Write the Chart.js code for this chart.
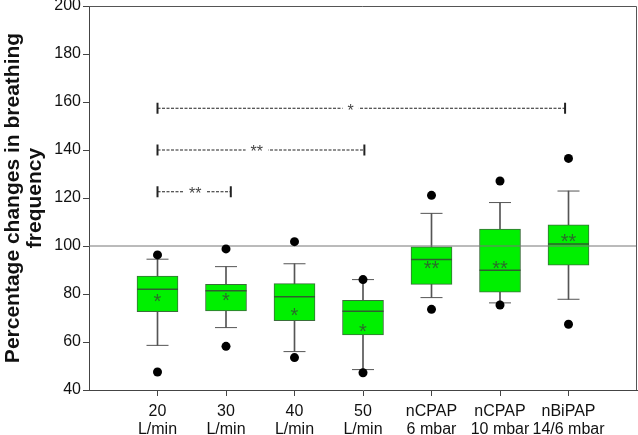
<!DOCTYPE html>
<html>
<head>
<meta charset="utf-8">
<script src="https://cdn.jsdelivr.net/npm/chart.js@4/dist/chart.umd.min.js"></script>
<style>
body{margin:0;background:#fff}
#wrap{width:638px;height:435px}
</style>
</head>
<body>
<div id="wrap"><canvas id="myChart"></canvas></div>
<script>
//box plot values, one entry per group
var groups = [['20','L/min'],['30','L/min'],['40','L/min'],['50','L/min'],['nCPAP','6 mbar'],['nCPAP','10 mbar'],['nBiPAP','14/6 mbar']];
var q1 = [72.6, 72.9, 68.9, 63.0, 84.0, 80.8, 92.0];
var q3 = [87.5, 84.0, 84.3, 77.4, 99.7, 107.0, 108.8];
var medians = [82.0, 81.4, 78.9, 72.8, 94.4, 89.9, 100.8];
var means = [78.2, 78.6, 72.2, 65.7, 91.8, 92.0, 103.2];
var whiskerLow = [58.6, 66.0, 56.0, 48.5, 78.5, 76.3, 77.8];
var whiskerHigh = [94.5, 91.4, 92.6, 86.0, 113.6, 118.1, 122.9];
var outlierLow = [47.5, 58.2, 53.5, 47.2, 73.6, 75.4, 67.4];
var outlierHigh = [96.3, 98.8, 101.8, 86.0, 121.1, 127.1, 136.5];
var meanMarks = ['*','*','*','*','**','**','**'];
var yTicks = [40, 60, 80, 100, 120, 140, 160, 180, 200];
var refLine = 100;
//significance brackets
var bracketFrom = [1, 1, 1];
var bracketTo = [2.07, 4.02, 6.95];
var bracketY = [122.6, 140, 157.4];
var bracketText = ['**', '**', '*'];
var bracketTextX = [1.55, 2.45, 3.82];

var FONT = "'Liberation Sans', Arial, sans-serif";

function pts(arr){
    return arr.map(function(v, i){ return {x: i + 1, y: v}; });
}
function ranges(lo, hi){
    return lo.map(function(v, i){ return {x: i + 1, y: [v, hi[i]]}; });
}

var datasets = [];
datasets.push({
    type: 'line', label: 'outliers', order: 0,
    data: pts(outlierLow).concat(pts(outlierHigh)),
    showLine: false, pointStyle: 'circle', pointRadius: 4.5,
    pointBackgroundColor: '#000', pointBorderColor: '#000', pointBorderWidth: 0
});
datasets.push({
    type: 'line', label: 'ref', order: 1,
    data: [{x: 0, y: refLine}, {x: 8, y: refLine}],
    borderColor: '#777', borderWidth: 1, pointRadius: 0
});
datasets.push({
    type: 'line', label: 'medians', order: 2,
    data: pts(medians),
    showLine: false, pointStyle: 'line', pointRadius: 20.5,
    pointBorderColor: '#2e5e2e', pointBorderWidth: 1.5
});
datasets.push({
    type: 'bar', label: 'boxes', order: 3, grouped: false,
    data: ranges(q1, q3),
    barThickness: 41, backgroundColor: '#00f000',
    borderColor: '#3a6e3a', borderWidth: 1, borderSkipped: false
});
datasets.push({
    type: 'line', label: 'caps', order: 4,
    data: pts(whiskerLow).concat(pts(whiskerHigh)),
    showLine: false, pointStyle: 'line', pointRadius: 11,
    pointBorderColor: '#555', pointBorderWidth: 1
});
datasets.push({
    type: 'bar', label: 'whiskers', order: 5, grouped: false,
    data: ranges(whiskerLow, whiskerHigh),
    barThickness: 1, backgroundColor: '#555', borderWidth: 0
});
for (var b = 0; b < bracketY.length; b++) {
    datasets.push({
        type: 'line', label: 'bracket' + b, order: 6,
        data: [{x: bracketFrom[b], y: bracketY[b]}, {x: bracketTo[b], y: bracketY[b]}],
        borderColor: '#222', borderWidth: 1.2, borderDash: [3, 1.5],
        pointStyle: 'line', pointRotation: 90, pointRadius: 5.5,
        pointBorderColor: '#222', pointBorderWidth: 2
    });
}

//asterisks, bracket labels and the frame
var marks = {
    id: 'marks',
    afterDatasetsDraw: function(chart){
        var c = chart.ctx, xs = chart.scales.x, ys = chart.scales.y, a = chart.chartArea;
        c.save();
        c.strokeStyle = '#555';
        c.lineWidth = 1;
        c.beginPath();
        c.moveTo(a.left, a.top + 0.5);
        c.lineTo(a.right - 0.5, a.top + 0.5);
        c.lineTo(a.right - 0.5, a.bottom);
        c.stroke();
        c.textAlign = 'center';
        c.textBaseline = 'middle';
        c.font = '20px ' + FONT;
        c.fillStyle = '#2b6b2b';
        for (var i = 0; i < means.length; i++) {
            c.fillText(meanMarks[i], xs.getPixelForValue(i + 1), ys.getPixelForValue(means[i]) + 4);
        }
        c.font = '16px ' + FONT;
        for (var j = 0; j < bracketText.length; j++) {
            var px = xs.getPixelForValue(bracketTextX[j]), py = ys.getPixelForValue(bracketY[j]);
            var w = c.measureText(bracketText[j]).width;
            c.fillStyle = '#fff';
            c.fillRect(px - w / 2 - 5, py - 4, w + 10, 8);
            c.fillStyle = '#444';
            c.fillText(bracketText[j], px, py + 3);
        }
        c.restore();
    }
};

var ctx = document.getElementById('myChart').getContext('2d');
var chart = new Chart(ctx, {
    type: 'bar',
    data: {datasets: datasets},
    plugins: [marks],
    options: {
        responsive: true,
        maintainAspectRatio: false,
        animation: false,
        layout: {autoPadding: false, padding: {top: 6, right: 1, left: 0, bottom: 0}},
        plugins: {legend: {display: false}, tooltip: {enabled: false}},
        scales: {
            x: {
                type: 'linear', min: 0, max: 8, offset: false,
                afterBuildTicks: function(s){ s.ticks = groups.map(function(g, i){ return {value: i + 1}; }); },
                afterFit: function(s){ s.height = 45; s.paddingLeft = 0; s.paddingRight = 0; },
                ticks: {
                    callback: function(v){ return groups[v - 1]; },
                    font: {family: FONT, size: 16, lineHeight: 1.15}, color: '#111',
                    maxRotation: 0, autoSkip: false, padding: 6
                },
                grid: {drawOnChartArea: false, offset: false, tickLength: 6, color: '#444'},
                border: {color: '#444'}
            },
            y: {
                min: 40, max: 200,
                afterBuildTicks: function(s){ s.ticks = yTicks.map(function(v){ return {value: v}; }); },
                afterFit: function(s){ s.width = 89; s.paddingTop = 0; s.paddingBottom = 0; },
                ticks: {font: {family: FONT, size: 16}, color: '#111', padding: 2},
                grid: {drawOnChartArea: false, tickLength: 6, color: '#444'},
                border: {color: '#444'},
                title: {
                    display: true,
                    text: ['Percentage changes in breathing', 'frequency'],
                    font: {family: FONT, size: 21, weight: 'bold', lineHeight: 1.05},
                    color: '#111',
                    padding: {top: 2, bottom: 0}
                }
            }
        }
    }
});
</script>
</body>
</html>
